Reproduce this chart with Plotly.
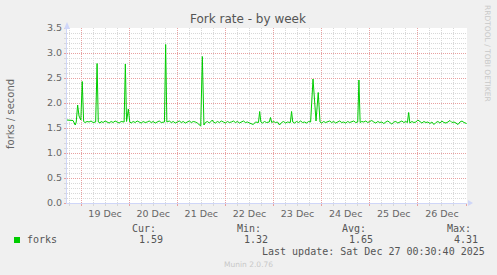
import plotly.graph_objects as go
import pandas as pd

# ---- data ----
start_time = "2025-12-18 17:00"
# (hours after start_time, forks per second)
fork_samples = [
    (0, 1.66), (1, 1.66), (2, 1.66), (3, 1.65), (4.1, 1.56), (4.6, 1.62), (5.3, 1.96), (6.0, 1.74),
    (6.9, 1.66), (7.6, 2.43), (8.3, 1.63), (9, 1.61), (10, 1.63), (11, 1.62), (12, 1.64), (13, 1.61),
    (14.3, 1.62), (15.0, 2.79), (15.6, 1.62), (16.5, 1.60), (17, 1.63), (18, 1.61), (19, 1.64), (20, 1.62),
    (21, 1.60), (22, 1.63), (23, 1.61), (24, 1.64), (25, 1.62), (26, 1.60), (27, 1.63), (28.5, 1.62),
    (29.1, 2.78), (29.7, 1.63), (30.6, 1.88), (31.3, 1.62), (32, 1.60), (33, 1.63), (34, 1.61), (35, 1.64),
    (36, 1.62), (37, 1.60), (38, 1.63), (39, 1.61), (40, 1.62), (41, 1.64), (42, 1.61), (43, 1.63),
    (44, 1.60), (45, 1.62), (46, 1.64), (47, 1.61), (48.6, 1.62), (49.2, 3.17), (49.8, 1.62), (51, 1.64),
    (52, 1.61), (53, 1.63), (54, 1.60), (55, 1.62), (56, 1.64), (57, 1.61), (58, 1.63), (59, 1.60),
    (60, 1.62), (61, 1.64), (62, 1.61), (63, 1.63), (64, 1.62), (65, 1.60), (66.7, 1.54), (67.5, 2.93),
    (68.3, 1.56), (69, 1.61), (70, 1.63), (71, 1.60), (72.5, 1.66), (73, 1.62), (74, 1.60), (75, 1.63),
    (76, 1.61), (77, 1.64), (78, 1.62), (79, 1.60), (80, 1.63), (81, 1.61), (82, 1.62), (83, 1.64),
    (84, 1.61), (85, 1.63), (86, 1.60), (87, 1.62), (88, 1.64), (89, 1.61), (90, 1.62), (91, 1.60),
    (92.9, 1.57), (94, 1.62), (95.5, 1.61), (96.1, 1.83), (96.7, 1.62), (97.5, 1.60), (98.5, 1.63),
    (99.5, 1.61), (100.9, 1.62), (101.5, 1.71), (102.1, 1.61), (103, 1.63), (104, 1.61), (105, 1.62),
    (106, 1.56), (107, 1.61), (108, 1.63), (109, 1.60), (110, 1.62), (111.4, 1.61), (112.0, 1.83),
    (112.6, 1.62), (113.5, 1.60), (114.5, 1.63), (115.5, 1.61), (116.5, 1.64), (117.5, 1.61),
    (118.5, 1.62), (119.5, 1.60), (120.5, 1.63), (121.5, 1.62), (122.7, 2.48), (124.2, 1.64),
    (125.3, 2.21), (126.2, 1.62), (127, 1.60), (128, 1.63), (129, 1.61), (130, 1.62), (131, 1.64),
    (132, 1.61), (133, 1.63), (134, 1.60), (135, 1.62), (136, 1.64), (137, 1.61), (138, 1.62),
    (139, 1.60), (140, 1.63), (141, 1.61), (142, 1.62), (143, 1.64), (144, 1.61), (145.0, 1.62),
    (145.6, 2.46), (146.2, 1.61), (147, 1.63), (148, 1.62), (149, 1.64), (150, 1.61), (151, 1.63),
    (152, 1.65), (153, 1.62), (154, 1.60), (155, 1.63), (156, 1.61), (157, 1.62), (158, 1.59),
    (159, 1.62), (160, 1.64), (161, 1.61), (162, 1.58), (163, 1.62), (164, 1.63), (165, 1.60),
    (166, 1.62), (167, 1.64), (168, 1.61), (169, 1.63), (169.8, 1.61), (170.4, 1.81), (171.0, 1.60),
    (172, 1.63), (173, 1.61), (174, 1.62), (175, 1.66), (176, 1.62), (177, 1.60), (178, 1.63),
    (179, 1.61), (180, 1.62), (181, 1.59), (182, 1.62), (183, 1.57), (184, 1.61), (185, 1.63),
    (186, 1.60), (187, 1.64), (188, 1.61), (189, 1.60), (190, 1.62), (191, 1.65), (192, 1.61),
    (193, 1.62), (194, 1.60), (195, 1.57), (196, 1.62), (197, 1.64), (198, 1.61), (199.3, 1.59),
]
hours = [h for h, _ in fork_samples]
forks = [v for _, v in fork_samples]
range_hours = 199.5
day_labels = ["19 Dec", "20 Dec", "21 Dec", "22 Dec", "23 Dec", "24 Dec", "25 Dec", "26 Dec"]
day_dates = ["2025-12-19", "2025-12-20", "2025-12-21", "2025-12-22", "2025-12-23", "2025-12-24",
             "2025-12-25", "2025-12-26"]
y_ticks = [0.0, 0.5, 1.0, 1.5, 2.0, 2.5, 3.0, 3.5]
title = "Fork rate - by week"
y_title = "forks / second"
series_name = "forks"
stat_names = ["Cur:", "Min:", "Avg:", "Max:"]
stat_values = ["1.59", "1.32", "1.65", "4.31"]
last_update = "Last update: Sat Dec 27 00:30:40 2025"
version = "Munin 2.0.76"
watermark = "RRDTOOL / TOBI OETIKER"

# ---- styling ----
W, H = 497, 275
L, T, PW, PH = 67, 28, 400, 175
BG = "#F0F0F0"
FONT = "#666666"
TEXT = "#555555"
AXIS = "#CFD6F8"
MGRID = "#E8A0A0"
GRID = "#D8D8D8"
LINE = "#00CC00"
SANS = "DejaVu Sans"
MONO = "DejaVu Sans Mono"

t0 = pd.Timestamp(start_time)
x = [t0 + pd.Timedelta(hours=h) for h in hours]
x_end = t0 + pd.Timedelta(hours=range_hours)
noon = [pd.Timestamp(d) + pd.Timedelta(hours=12) for d in day_dates]


def px(v):
    return (v - L) / PW


def py(v):
    return (T + PH - v) / PH


fig = go.Figure()
fig.add_trace(go.Scatter(x=x, y=forks, mode="lines", line=dict(color=LINE, width=1),
                         showlegend=False, hoverinfo="skip"))
fig.add_trace(go.Scatter(x=[x[0]], y=[None], xaxis="x2", mode="lines", showlegend=False,
                         hoverinfo="skip"))

fig.update_layout(
    width=W, height=H, margin=dict(l=L, r=W - L - PW, t=T, b=H - T - PH),
    paper_bgcolor=BG, plot_bgcolor="#FFFFFF", showlegend=False,
    font=dict(family=SANS, size=9.5, color=FONT),
    xaxis=dict(type="date", range=[t0, x_end], tick0="2025-12-19", dtick=86400000,
               showticklabels=False, showgrid=True, gridcolor=MGRID, griddash="1px,1px", gridwidth=1,
               ticks="outside", ticklen=2, tickcolor=MGRID,
               showline=True, linecolor=AXIS, linewidth=1, zeroline=False,
               minor=dict(dtick=21600000, tick0="2025-12-19", showgrid=True, gridcolor=GRID,
                          griddash="1px,1px", ticks="outside", ticklen=2, tickcolor=GRID)),
    xaxis2=dict(type="date", overlaying="x", anchor="y", side="bottom", range=[t0, x_end],
                tickvals=noon, ticktext=day_labels, showgrid=False, showline=False, zeroline=False,
                ticks="", tickfont=dict(family=SANS, size=9.5, color=FONT), ticklabelstandoff=3),
    yaxis=dict(range=[0, 3.5], tickvals=y_ticks, tickformat=".1f", showgrid=True, gridcolor=MGRID,
               griddash="1px,1px", ticks="outside", ticklen=2, tickcolor=MGRID,
               showline=True, linecolor=AXIS, linewidth=1, zeroline=False,
               tickfont=dict(family=SANS, size=9.5, color=FONT),
               minor=dict(dtick=0.1, showgrid=True, gridcolor=GRID, griddash="1px,1px",
                          ticks="outside", ticklen=2, tickcolor=GRID)),
)

# axis arrows
fig.add_shape(type="path", xref="paper", yref="paper", xsizemode="pixel", ysizemode="pixel",
              xanchor=0, yanchor=1, path="M -3,-1 L 3,-1 L 0,6 Z", fillcolor=AXIS, line=dict(width=0))
fig.add_shape(type="path", xref="paper", yref="paper", xsizemode="pixel", ysizemode="pixel",
              xanchor=1, yanchor=0, path="M 1,-3 L 1,3 L 6,0 Z", fillcolor=AXIS, line=dict(width=0))

ann = []
ann.append(dict(text=title, x=px(248), y=py(19), font=dict(family=SANS, size=12, color=TEXT)))
ann.append(dict(text=y_title, x=px(10), y=py(114), textangle=-90, font=dict(family=SANS, size=10, color=FONT)))
ann.append(dict(text=watermark, x=px(488), y=py(53), textangle=90, font=dict(family=SANS, size=7.5, color="#C8C8C8")))
ann.append(dict(text=series_name, x=px(26), y=py(239.5), xanchor="left", font=dict(family=MONO, size=10, color=TEXT)))
name_x = [131, 236, 341, 446]
val_x = [137.5, 242.5, 348, 453]
for nm, vv, nx, vx in zip(stat_names, stat_values, name_x, val_x):
    ann.append(dict(text=nm, x=px(nx), y=py(228), xanchor="left", font=dict(family=MONO, size=10, color=TEXT)))
    ann.append(dict(text=vv, x=px(vx), y=py(239.5), xanchor="left", font=dict(family=MONO, size=10, color=TEXT)))
ann.append(dict(text=last_update, x=px(261), y=py(251.5), xanchor="left", font=dict(family=MONO, size=10, color=TEXT)))
ann.append(dict(text=version, x=px(223), y=py(264.5), xanchor="left", font=dict(family=SANS, size=7.5, color="#C8C8C8")))
for a in ann:
    a.update(xref="paper", yref="paper", showarrow=False, borderpad=0)
    a.setdefault("xanchor", "center")
    a["yanchor"] = "middle"
fig.update_layout(annotations=ann)

fig.add_shape(type="rect", xref="paper", yref="paper", x0=px(14), x1=px(20), y0=py(243), y1=py(237),
              fillcolor=LINE, line=dict(width=0))

fig.write_html("out.html")
